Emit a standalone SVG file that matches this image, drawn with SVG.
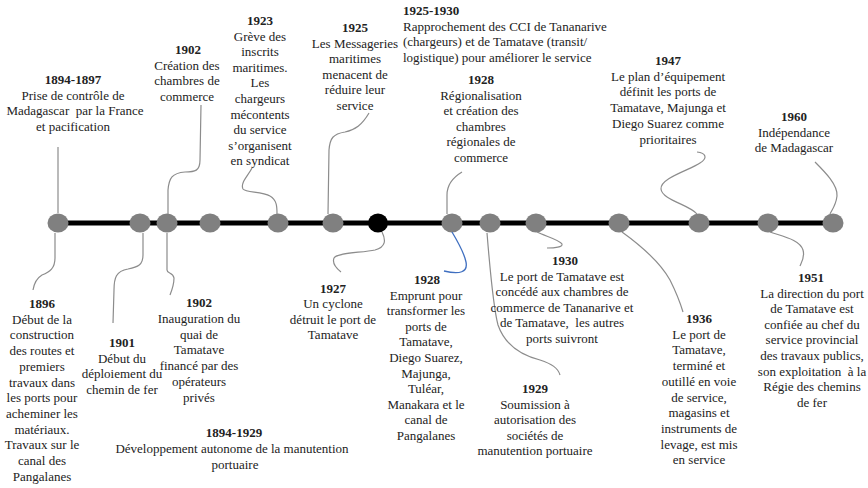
<svg xmlns="http://www.w3.org/2000/svg" width="868" height="488" viewBox="0 0 868 488">
<style>
text{font-family:"Liberation Serif","Times New Roman",serif;font-size:13px;fill:#222;text-anchor:middle}
.l{text-anchor:start}
.y{font-weight:bold}
.c{fill:none;stroke:#8c8c8c;stroke-width:1.2}
.b{fill:none;stroke:#3f6fc0;stroke-width:1.3}
.d{fill:#808080}
</style>
<rect width="868" height="488" fill="#fff"/>
<g id="timeline">
<line x1="58" y1="223" x2="833" y2="223" stroke="#000" stroke-width="5"/>
<ellipse class="d" cx="58" cy="223" rx="10.5" ry="9.5"/>
<ellipse class="d" cx="140" cy="223" rx="10.5" ry="9.5"/>
<ellipse class="d" cx="167" cy="223" rx="10.5" ry="9.5"/>
<ellipse class="d" cx="210" cy="223" rx="10.5" ry="9.5"/>
<ellipse class="d" cx="278" cy="223" rx="10.5" ry="9.5"/>
<ellipse class="d" cx="333" cy="223" rx="10.5" ry="9.5"/>
<ellipse cx="378" cy="223" rx="10" ry="9.5" fill="#000"/>
<ellipse class="d" cx="452" cy="223" rx="10.5" ry="9.5"/>
<ellipse class="d" cx="490" cy="223" rx="10.5" ry="9.5"/>
<ellipse class="d" cx="536" cy="223" rx="10.5" ry="9.5"/>
<ellipse class="d" cx="619" cy="223" rx="10.5" ry="9.5"/>
<ellipse class="d" cx="699" cy="223" rx="10.5" ry="9.5"/>
<ellipse class="d" cx="768" cy="223" rx="10.5" ry="9.5"/>
<ellipse class="d" cx="833" cy="223" rx="10.5" ry="9.5"/>
</g>
<g id="connectors">
<path class="c" d="M58,147 L58,213"/>
<path class="c" d="M201,105 L200,160 C200,171 195,172 185,172 C172,173 169,178 168,190 L168,214"/>
<path class="c" d="M252,168 C248,176 240,183 243,189 C246,193 262,191 270,196 C277,200 277,207 277,214"/>
<path class="c" d="M369,113 C362,125 355,130 345,132 C333,134 330,138 329,150 L328,214"/>
<path class="c" d="M462,172 C452,178 447,185 447,195 L447,214"/>
<path class="c" d="M697,152 C706,153 708,158 700,163 C690,170 660,178 661,189 C662,200 690,205 697,214"/>
<path class="c" d="M815,162 C825,172 838,185 837,196 C836,205 832,210 830,214"/>
<path class="c" d="M55,233 L55,258 C55,268 50,272 42,275 C37,278 34,284 33,290"/>
<path class="c" d="M143,233 L143,255 C143,265 138,267 128,269 C116,271 114,278 114,290 L113,323"/>
<path class="c" d="M167,233 L167,270 C167,274 173,272 174,278 C174,284 172,290 170,295"/>
<path class="c" d="M382,232 C386,240 386,247 375,250 C362,253 338,252 334,258 C332,263 336,268 341,272"/>
<path class="b" d="M452,232 C458,242 464,252 466,262 C468,272 460,275 444,271"/>
<path class="c" d="M487,233 C490,270 494,310 498,325 C505,345 520,355 540,360 C552,364 558,368 560,375"/>
<path class="c" d="M537,232 C545,236 560,240 562,244 C563,247 555,248 547,248"/>
<path class="c" d="M622,232 C640,245 660,262 670,280 C676,292 680,302 683,312"/>
<path class="c" d="M770,232 C785,237 800,240 803,250 C805,257 802,262 800,266"/>
</g>
<g id="e1894">
<text x="73" y="84" xml:space="preserve"><tspan class="y">1894-1897</tspan><tspan x="73" dy="15.7">Prise de contrôle de</tspan><tspan x="75" dy="15.7">Madagascar  par la France</tspan><tspan x="73" dy="15.7">et pacification</tspan></text>
</g>
<g id="e1902a">
<text x="188" y="54"><tspan class="y">1902</tspan><tspan x="187" dy="15.7">Création des</tspan><tspan x="187" dy="15.7">chambres de</tspan><tspan x="187" dy="15.7">commerce</tspan></text>
</g>
<g id="e1923">
<text x="260" y="25"><tspan class="y">1923</tspan><tspan x="260" dy="15.6">Grève des</tspan><tspan x="260" dy="15.6">inscrits</tspan><tspan x="260" dy="15.6">maritimes.</tspan><tspan x="260" dy="15.6">Les</tspan><tspan x="260" dy="15.6">chargeurs</tspan><tspan x="260" dy="15.6">mécontents</tspan><tspan x="260" dy="15.6">du service</tspan><tspan x="260" dy="15.6">s’organisent</tspan><tspan x="260" dy="15.6">en syndicat</tspan></text>
</g>
<g id="e1925">
<text x="355" y="32"><tspan class="y">1925</tspan><tspan x="355" dy="15.6">Les Messageries</tspan><tspan x="355" dy="15.6">maritimes</tspan><tspan x="355" dy="15.6">menacent de</tspan><tspan x="355" dy="15.6">réduire leur</tspan><tspan x="355" dy="15.6">service</tspan></text>
</g>
<g id="e1925_1930">
<text class="l" x="403" y="15"><tspan class="y">1925-1930</tspan><tspan x="403" dy="15.5">Rapprochement des CCI de Tananarive</tspan><tspan x="403" dy="15.5">(chargeurs) et de Tamatave (transit/</tspan><tspan x="403" dy="15.5">logistique) pour améliorer le service</tspan></text>
</g>
<g id="e1928a">
<text x="481" y="84"><tspan class="y">1928</tspan><tspan x="481" dy="15.6">Régionalisation</tspan><tspan x="481" dy="15.6">et création des</tspan><tspan x="481" dy="15.6">chambres</tspan><tspan x="481" dy="15.6">régionales de</tspan><tspan x="481" dy="15.6">commerce</tspan></text>
</g>
<g id="e1947">
<text x="668" y="65"><tspan class="y">1947</tspan><tspan x="668" dy="15.7">Le plan d’équipement</tspan><tspan x="668" dy="15.7">définit les ports de</tspan><tspan x="668" dy="15.7">Tamatave, Majunga et</tspan><tspan x="668" dy="15.7">Diego Suarez comme</tspan><tspan x="668" dy="15.7">prioritaires</tspan></text>
</g>
<g id="e1960">
<text x="794" y="121"><tspan class="y">1960</tspan><tspan x="794" dy="15.6">Indépendance</tspan><tspan x="794" dy="15.6">de Madagascar</tspan></text>
</g>
<g id="e1896">
<text x="42" y="308"><tspan class="y">1896</tspan><tspan x="42" dy="15.7">Début de la</tspan><tspan x="42" dy="15.7">construction</tspan><tspan x="42" dy="15.7">des routes et</tspan><tspan x="42" dy="15.7">premiers</tspan><tspan x="42" dy="15.7">travaux dans</tspan><tspan x="42" dy="15.7">les ports pour</tspan><tspan x="42" dy="15.7">acheminer les</tspan><tspan x="42" dy="15.7">matériaux.</tspan><tspan x="42" dy="15.7">Travaux sur le</tspan><tspan x="42" dy="15.7">canal des</tspan><tspan x="42" dy="15.7">Pangalanes</tspan></text>
</g>
<g id="e1901">
<text x="122" y="347"><tspan class="y">1901</tspan><tspan x="122" dy="15.6">Début du</tspan><tspan x="122" dy="15.6">déploiement du</tspan><tspan x="122" dy="15.6">chemin de fer</tspan></text>
</g>
<g id="e1902b">
<text x="199" y="307"><tspan class="y">1902</tspan><tspan x="199" dy="15.8">Inauguration du</tspan><tspan x="199" dy="15.8">quai de</tspan><tspan x="199" dy="15.8">Tamatave</tspan><tspan x="199" dy="15.8">financé par des</tspan><tspan x="199" dy="15.8">opérateurs</tspan><tspan x="199" dy="15.8">privés</tspan></text>
</g>
<g id="e1894_1929">
<text x="234" y="437"><tspan class="y">1894-1929</tspan><tspan x="232" dy="16">Développement autonome de la manutention</tspan><tspan x="235" dy="16">portuaire</tspan></text>
</g>
<g id="e1927">
<text x="333" y="293"><tspan class="y">1927</tspan><tspan x="333" dy="15.4">Un cyclone</tspan><tspan x="333" dy="15.4">détruit le port de</tspan><tspan x="333" dy="15.4">Tamatave</tspan></text>
</g>
<g id="e1928b">
<text x="427" y="284"><tspan class="y">1928</tspan><tspan x="426" dy="15.6">Emprunt pour</tspan><tspan x="426" dy="15.6">transformer les</tspan><tspan x="426" dy="15.6">ports de</tspan><tspan x="426" dy="15.6">Tamatave,</tspan><tspan x="426" dy="15.6">Diego Suarez,</tspan><tspan x="426" dy="15.6">Majunga,</tspan><tspan x="426" dy="15.6">Tuléar,</tspan><tspan x="426" dy="15.6">Manakara et le</tspan><tspan x="426" dy="15.6">canal de</tspan><tspan x="426" dy="15.6">Pangalanes</tspan></text>
</g>
<g id="e1930">
<text x="565" y="265" xml:space="preserve"><tspan class="y">1930</tspan><tspan x="562" dy="15.6">Le port de Tamatave est</tspan><tspan x="562" dy="15.6">concédé aux chambres de</tspan><tspan x="562" dy="15.6">commerce de Tananarive et</tspan><tspan x="562" dy="15.6">de Tamatave,  les autres</tspan><tspan x="562" dy="15.6">ports suivront</tspan></text>
</g>
<g id="e1929">
<text x="535" y="393"><tspan class="y">1929</tspan><tspan x="535" dy="15.6">Soumission à</tspan><tspan x="535" dy="15.6">autorisation des</tspan><tspan x="535" dy="15.6">sociétés de</tspan><tspan x="535" dy="15.6">manutention portuaire</tspan></text>
</g>
<g id="e1936">
<text x="699" y="323"><tspan class="y">1936</tspan><tspan x="699" dy="15.7">Le port de</tspan><tspan x="699" dy="15.7">Tamatave,</tspan><tspan x="699" dy="15.7">terminé et</tspan><tspan x="699" dy="15.7">outillé en voie</tspan><tspan x="699" dy="15.7">de service,</tspan><tspan x="699" dy="15.7">magasins et</tspan><tspan x="699" dy="15.7">instruments de</tspan><tspan x="699" dy="15.7">levage, est mis</tspan><tspan x="699" dy="15.7">en service</tspan></text>
</g>
<g id="e1951">
<text x="811" y="282" xml:space="preserve"><tspan class="y">1951</tspan><tspan x="812" dy="15.6">La direction du port</tspan><tspan x="812" dy="15.6">de Tamatave est</tspan><tspan x="812" dy="15.6">confiée au chef du</tspan><tspan x="812" dy="15.6">service provincial</tspan><tspan x="812" dy="15.6">des travaux publics,</tspan><tspan x="812" dy="15.6">son exploitation  à la</tspan><tspan x="812" dy="15.6">Régie des chemins</tspan><tspan x="812" dy="15.6">de fer</tspan></text>
</g>
</svg>
